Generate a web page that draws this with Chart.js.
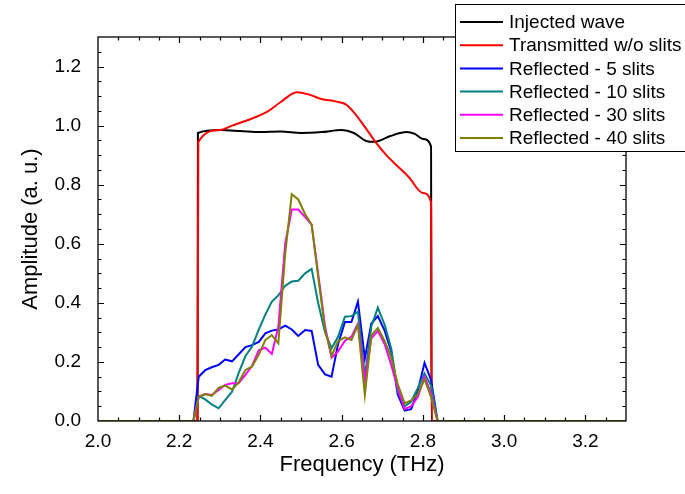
<!DOCTYPE html>
<html>
<head>
<meta charset="utf-8">
<script src="https://cdn.jsdelivr.net/npm/chart.js@4.4.0/dist/chart.umd.min.js"></script>
<style>
  body { margin: 0; background: #fff; }
  #wrap { width: 685px; height: 494px; }
</style>
</head>
<body>
<div id="wrap"><canvas id="spectrumChart" width="685" height="494"></canvas></div>
<script>
// frequency axis (THz) and tick labels
const xTicks = [2.0, 2.2, 2.4, 2.6, 2.8, 3.0, 3.2];
const yTicks = [0.0, 0.2, 0.4, 0.6, 0.8, 1.0, 1.2];

// injected wave
const freqInjected = [2.0, 2.245, 2.246, 2.3, 2.35, 2.4, 2.45, 2.5, 2.55, 2.6, 2.63, 2.66, 2.68, 2.72, 2.76, 2.78, 2.8, 2.82, 2.821, 3.3];
const injected = [0, 0, 0.975, 0.985, 0.982, 0.978, 0.98, 0.975, 0.978, 0.985, 0.975, 0.948, 0.945, 0.965, 0.978, 0.972, 0.955, 0.93, 0, 0];

// transmitted without slits
const freqTransmitted = [2.0, 2.245, 2.247, 2.3, 2.33, 2.39, 2.42, 2.45, 2.49, 2.52, 2.55, 2.585, 2.61, 2.63, 2.66, 2.683, 2.71, 2.765, 2.8, 2.82, 2.822, 3.3];
const transmitted = [0, 0, 0.945, 0.985, 1.0, 1.03, 1.05, 1.08, 1.113, 1.105, 1.09, 1.082, 1.072, 1.045, 0.99, 0.945, 0.9, 0.826, 0.772, 0.74, 0, 0];

// reflected spectra, shared sampling
const freqReflected = [2.0, 2.235, 2.248, 2.264, 2.28, 2.297, 2.313, 2.33, 2.346, 2.363, 2.379, 2.396, 2.412, 2.428, 2.444, 2.461, 2.477, 2.493, 2.51, 2.526, 2.542, 2.559, 2.575, 2.591, 2.608, 2.624, 2.64, 2.657, 2.673, 2.689, 2.706, 2.722, 2.738, 2.755, 2.771, 2.787, 2.804, 2.82, 2.836, 3.3];
const refl5 = [0, 0, 0.15, 0.172, 0.182, 0.19, 0.208, 0.202, 0.225, 0.25, 0.257, 0.268, 0.297, 0.306, 0.31, 0.323, 0.31, 0.288, 0.308, 0.305, 0.19, 0.158, 0.15, 0.26, 0.335, 0.335, 0.404, 0.212, 0.33, 0.355, 0.305, 0.235, 0.09, 0.035, 0.04, 0.1, 0.197, 0.139, 0, 0];
const refl10 = [0, 0, 0.085, 0.073, 0.056, 0.043, 0.071, 0.099, 0.161, 0.22, 0.251, 0.31, 0.36, 0.404, 0.425, 0.458, 0.472, 0.475, 0.5, 0.515, 0.4, 0.3, 0.246, 0.285, 0.353, 0.355, 0.37, 0.15, 0.32, 0.384, 0.325, 0.245, 0.1, 0.05, 0.065, 0.11, 0.161, 0.12, 0, 0];
const refl30 = [0, 0, 0.082, 0.091, 0.088, 0.105, 0.122, 0.128, 0.128, 0.156, 0.186, 0.24, 0.248, 0.227, 0.319, 0.601, 0.716, 0.716, 0.69, 0.665, 0.5, 0.32, 0.215, 0.235, 0.272, 0.285, 0.33, 0.139, 0.28, 0.305, 0.26, 0.19, 0.11, 0.04, 0.05, 0.08, 0.15, 0.093, 0, 0];
const refl40 = [0, 0, 0.082, 0.091, 0.085, 0.112, 0.12, 0.107, 0.13, 0.173, 0.184, 0.225, 0.274, 0.291, 0.263, 0.567, 0.768, 0.75, 0.7, 0.665, 0.49, 0.31, 0.22, 0.27, 0.283, 0.274, 0.325, 0.088, 0.29, 0.315, 0.27, 0.215, 0.125, 0.06, 0.07, 0.09, 0.141, 0.082, 0, 0];

function pts(xs, ys) {
    return xs.map(function (x, i) { return { x: x, y: ys[i] }; });
}

const seriesList = [
    { label: 'Injected wave', xs: freqInjected, ys: injected, color: '#000000', smooth: true },
    { label: 'Transmitted w/o slits', xs: freqTransmitted, ys: transmitted, color: '#ff0000', smooth: true },
    { label: 'Reflected - 5 slits', xs: freqReflected, ys: refl5, color: '#0000ff', smooth: false },
    { label: 'Reflected - 10 slits', xs: freqReflected, ys: refl10, color: '#008080', smooth: false },
    { label: 'Reflected - 30 slits', xs: freqReflected, ys: refl30, color: '#ff00ff', smooth: false },
    { label: 'Reflected - 40 slits', xs: freqReflected, ys: refl40, color: '#808000', smooth: false }
];

const datasets = seriesList.map(function (s, i) {
    return {
        label: s.label,
        data: pts(s.xs, s.ys),
        borderColor: s.color,
        backgroundColor: s.color,
        borderWidth: 2,
        pointRadius: 0,
        fill: false,
        tension: 0,
        cubicInterpolationMode: s.smooth ? 'monotone' : 'default',
        order: seriesList.length - i // later series drawn on top
    };
});

const FONT = "'Liberation Sans', Arial, sans-serif";

// frame with inward major/minor ticks on all four sides
const framePlugin = {
    id: 'frameTicks',
    afterDatasetsDraw: function (chart) {
        const ctx = chart.ctx;
        const a = chart.chartArea;
        const xs = chart.scales.x, ys = chart.scales.y;
        ctx.save();
        ctx.strokeStyle = '#000';
        ctx.lineWidth = 1.3;
        ctx.strokeRect(a.left, a.top, a.right - a.left, a.bottom - a.top);
        ctx.lineWidth = 1.2;
        ctx.beginPath();
        for (let v = 2.0; v <= 3.3001; v += 0.05) {
            const major = Math.abs(v * 5 - Math.round(v * 5)) < 1e-6;
            const len = major ? 6 : 3.5;
            const px = Math.round(xs.getPixelForValue(v)) + 0.5;
            if (px <= a.left + 1 || px >= a.right - 1) continue;
            ctx.moveTo(px, a.bottom); ctx.lineTo(px, a.bottom - len);
            ctx.moveTo(px, a.top); ctx.lineTo(px, a.top + len);
        }
        for (let v = 0; v <= 1.3001; v += 0.05) {
            const major = Math.abs(v * 5 - Math.round(v * 5)) < 1e-6;
            const len = major ? 6 : 3.5;
            const py = Math.round(ys.getPixelForValue(v)) + 0.5;
            if (py <= a.top + 1 || py >= a.bottom - 1) continue;
            ctx.moveTo(a.left, py); ctx.lineTo(a.left + len, py);
            ctx.moveTo(a.right, py); ctx.lineTo(a.right - len, py);
        }
        ctx.stroke();
        ctx.restore();
    },
    afterDraw: function (chart) {
        // legend box in the top right corner
        const ctx = chart.ctx;
        const bx = 455, by = 4, bw = 240, bh = 147;
        ctx.save();
        ctx.fillStyle = '#fff';
        ctx.fillRect(bx, by, bw, bh);
        ctx.strokeStyle = '#000';
        ctx.lineWidth = 1;
        ctx.strokeRect(bx + 0.5, by + 0.5, bw, bh);
        ctx.font = '19px ' + FONT;
        ctx.textBaseline = 'middle';
        ctx.textAlign = 'left';
        seriesList.forEach(function (s, i) {
            const y = 22 + i * 23.2;
            ctx.strokeStyle = s.color;
            ctx.lineWidth = 2;
            ctx.beginPath();
            ctx.moveTo(460, y);
            ctx.lineTo(503, y);
            ctx.stroke();
            ctx.fillStyle = '#000';
            ctx.fillText(s.label, 509, y + 1);
        });
        ctx.restore();
    }
};

const ctxSpectrum = document.getElementById('spectrumChart').getContext('2d');
const spectrumChart = new Chart(ctxSpectrum, {
    type: 'line',
    data: { datasets: datasets },
    options: {
        responsive: false,
        animation: false,
        layout: { padding: { top: 37, right: 59, left: 0, bottom: 0 } },
        plugins: {
            legend: { display: false },
            tooltip: { enabled: false }
        },
        scales: {
            x: {
                type: 'linear',
                min: 2.0,
                max: 3.3,
                grid: { display: false },
                border: { display: false },
                afterFit: function (scale) { scale.height = 73; },
                afterBuildTicks: function (scale) {
                    scale.ticks = xTicks.map(function (v) { return { value: v }; });
                },
                ticks: {
                    padding: 1,
                    color: '#000',
                    font: { family: FONT, size: 19 },
                    maxRotation: 0,
                    callback: function (v) { return Number(v).toFixed(1); }
                },
                title: {
                    display: true,
                    text: 'Frequency (THz)',
                    color: '#000',
                    font: { family: FONT, size: 22 },
                    padding: { top: 0, bottom: 16 }
                }
            },
            y: {
                min: 0,
                max: 1.3,
                grid: { display: false },
                border: { display: false },
                afterFit: function (scale) { scale.width = 98; },
                afterBuildTicks: function (scale) {
                    scale.ticks = yTicks.map(function (v) { return { value: v }; });
                },
                ticks: {
                    padding: 9,
                    color: '#000',
                    font: { family: FONT, size: 19 },
                    callback: function (v) { return Number(v).toFixed(1); }
                },
                title: {
                    display: true,
                    text: 'Amplitude (a. u.)',
                    color: '#000',
                    font: { family: FONT, size: 22 },
                    padding: { top: 18, bottom: 0 }
                }
            }
        }
    },
    plugins: [framePlugin]
});
</script>
</body>
</html>
